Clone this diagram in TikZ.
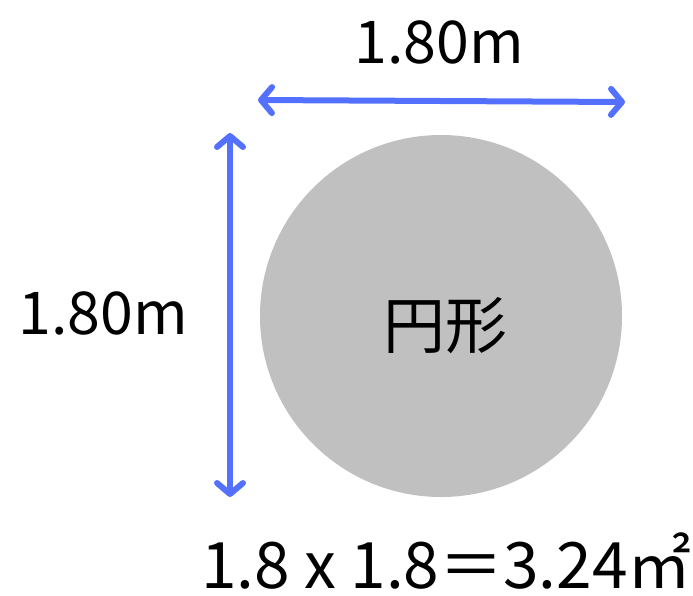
\documentclass[tikz,border=0pt]{standalone}
\usepackage{fontspec}
\setmainfont{Noto Sans CJK JP}
\usetikzlibrary{arrows.meta}
\definecolor{arrowblue}{RGB}{84,112,255}
\definecolor{circgray}{RGB}{192,192,192}
\tikzset{
  dimarrow/.style={draw=arrowblue, line width=6pt, line cap=round,
    {Straight Barb[length=11pt,width=26pt,line cap=round,line join=round]}-{Straight Barb[length=11pt,width=26pt,line cap=round,line join=round]}},
  lbl/.style={inner sep=0pt, font=\fontsize{59}{62}\selectfont}
}
\begin{document}
\begin{tikzpicture}[x=1pt,y=-1pt]
\useasboundingbox (0,0) rectangle (693,595);
\node[circle, fill=circgray, minimum size=362pt, inner sep=0pt] (c) at (441,316) {};
\node[font=\fontsize{62}{66}\selectfont, inner sep=0pt] (t) at (445,326) {円形};
\coordinate (h1) at (258,100);
\coordinate (h2) at (625,102);
\draw[dimarrow] (h1) -- (h2);
\coordinate (v1) at (230,133);
\coordinate (v2) at (230,497);
\draw[dimarrow] (v1) -- (v2);
\node[lbl] (top) at (439,42) {1.80m};
\node[lbl] (left) at (103,313) {1.80m};
\node[inner sep=0pt, text depth=0pt, font=\fontsize{64}{68}\selectfont, anchor=base east] (eq) at (692,588) {1.8 x 1.8＝3.24㎡};
\end{tikzpicture}
\end{document}
